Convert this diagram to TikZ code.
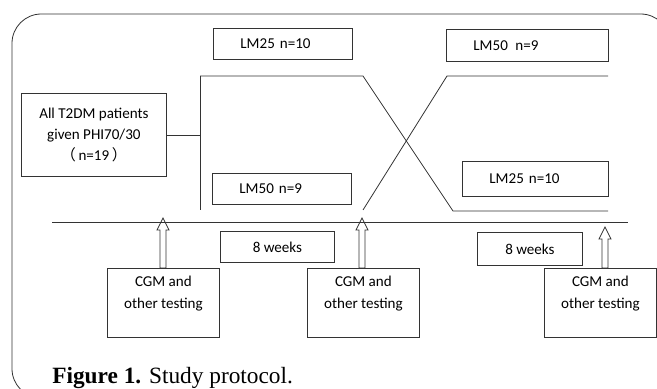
\documentclass[tikz,border=0pt]{standalone}
\usepackage{fontspec}
\setmainfont{Liberation Serif}
\newfontfamily\boxfont{Carlito}
\newfontfamily\cjkfont{Noto Sans CJK SC}
\usetikzlibrary{calc}

\tikzset{
	frameline/.style={line width=0.6pt, draw=black!80},
	armbox/.style={frameline, rectangle, anchor=north west, align=left, inner xsep=20.25pt, inner ysep=0pt, font=\boxfont\fontsize{11.3}{14}\selectfont},
	plainbox/.style={frameline, rectangle, anchor=north west, align=center, inner sep=0pt, font=\boxfont\fontsize{11.3}{15.75}\selectfont},
	testbox/.style={plainbox, minimum width=84pt, minimum height=51.75pt, font=\boxfont\fontsize{11.3}{16.5}\selectfont}
}

\newcommand{\hollowup}[2]{%
	\draw[frameline] let \p1=(#1), \p2=(#2) in
		(\x2-2.25pt,\y1) -- (\x2-2.25pt,\y2-9pt) -- (\x2-4.5pt,\y2-9pt) -- (\x2,\y2)
		-- (\x2+4.5pt,\y2-9pt) -- (\x2+2.25pt,\y2-9pt) -- (\x2+2.25pt,\y1) -- cycle;}

\begin{document}
\begin{tikzpicture}[x=0.75pt,y=-0.75pt]
		\clip (0,0) rectangle (657,389);
		\draw[frameline, rounded corners=22pt] (12,14) rectangle (670,398);

		\node[plainbox, minimum width=108.75pt, minimum height=62.25pt] (start) at (21,93) {All T2DM patients\\given PHI70/30\\{\cjkfont （}\,n=19\,{\cjkfont ）}};
		\node[armbox, text width=63.75pt, minimum height=23.25pt] (lm25a) at (213,28) {LM25 n=10};
		\node[armbox, text width=81pt, minimum height=24pt] (lm50a) at (446,29) {LM50\enspace n=9};
		\node[armbox, text width=63.75pt, minimum height=23.25pt] (lm50b) at (212,173) {LM50 n=9};
		\node[armbox, text width=69pt, minimum height=26.25pt] (lm25b) at (462,161) {LM25 n=10};

		\coordinate (armtop) at (200,76);
		\coordinate (armbot) at (200,210);
		\coordinate (crossa) at (363,76);
		\coordinate (crossb) at (453,211);
		\coordinate (enda) at (608,211);
		\coordinate (crossc) at (363,210);
		\coordinate (crossd) at (447,76);
		\coordinate (endb) at (608,76);
		\draw[frameline] (start.east) -- (start.east -| armtop);
		\draw[frameline] (armtop) -- (armbot);
		\draw[frameline] (armtop) -- (crossa) -- (crossb) -- (enda);
		\draw[frameline] (crossc) -- (crossd) -- (endb);

		\coordinate (time0) at (52,222);
		\coordinate (time1) at (628,222);
		\draw[frameline] (time0) -- (time1);

		\node[plainbox, minimum width=85.5pt, minimum height=23.25pt] (wk1) at (220,231) {8 weeks};
		\node[plainbox, minimum width=78.75pt, minimum height=24.75pt] (wk2) at (477,232) {8 weeks};

		\node[testbox] (cgm1) at (107,268) {CGM and\\other testing\\~};
		\node[testbox] (cgm2) at (307,268) {CGM and\\other testing\\~};
		\node[testbox] (cgm3) at (544,268) {CGM and\\other testing\\~};

		\coordinate (tip1) at (163,218);
		\coordinate (tip2) at (362,218);
		\coordinate (tip3) at (605,227);
		\hollowup{cgm1.north}{tip1}
		\hollowup{cgm2.north}{tip2}
		\hollowup{cgm3.north}{tip3}

		\node[anchor=base west, inner sep=0pt, font=\fontsize{17.5}{20}\selectfont] (caption) at (52,383) {\textbf{Figure 1.} Study protocol.};
	\end{tikzpicture}
\end{document}
